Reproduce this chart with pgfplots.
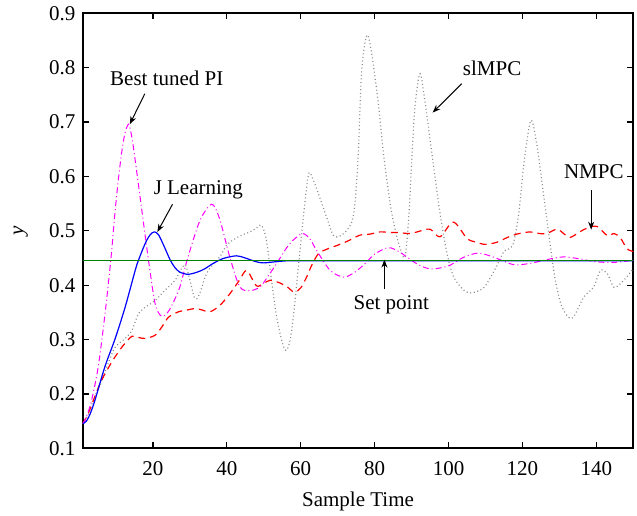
\documentclass[border=0pt]{standalone}
\usepackage{fontspec}
\setmainfont{Liberation Serif}
\usepackage{pgfplots}
\pgfplotsset{compat=1.18}
\usetikzlibrary{arrows.meta}

\definecolor{spgreen}{RGB}{0,128,0}
\definecolor{dotgray}{RGB}{140,140,140}
\definecolor{pimag}{RGB}{255,0,255}
\definecolor{nred}{RGB}{255,0,0}
\definecolor{jblue}{RGB}{0,0,255}

\begin{document}
\fontsize{10.5}{12.6}\selectfont
\begin{tikzpicture}
\useasboundingbox (-41.35pt,-33.35pt) rectangle (277.15pt,224.15pt);
\begin{axis}[
    scale only axis,
    width=275.3pt, height=217.5pt,
    xmin=1, xmax=150,
    ymin=0.1, ymax=0.9,
    xtick={20,40,...,140},
    ytick={0.1,0.2,...,0.9},
    yticklabel style={/pgf/number format/fixed, /pgf/number format/fixed zerofill, /pgf/number format/precision=1},
    /pgf/number format/assume math mode=true,
    tick align=inside,
    xtick pos=both, ytick pos=both,
    major tick length=3pt,
    tick style={black, line width=0.6pt},
    axis line style={line width=0.9pt},
    xticklabel style={yshift=-3pt},
    xlabel={Sample Time},
    ylabel={\textit{y}},
    xlabel style={at={(axis description cs:0.5,-0.1228)}, anchor=center},
    ylabel style={at={(axis description cs:-0.1126,0.5)}, anchor=center},
    clip=true,
]
% slMPC
\addplot[dotgray, line width=0.6pt, dash pattern=on 0.5pt off 1.3pt, smooth, tension=0.5] coordinates {
(1,0.145)(2.5,0.162)(4,0.19)(6,0.222)(8,0.258)(9.8,0.286)(12.5,0.302)(14.3,0.317)
(16.1,0.348)(17.4,0.357)(20.6,0.372)(23.3,0.391)(26,0.409)(27.5,0.428)(28.8,0.437)
(30,0.41)(31.3,0.376)(32.5,0.382)(34.5,0.421)(36.5,0.44)(38.1,0.452)(40,0.474)
(41.7,0.483)(44,0.492)(46.3,0.498)(48,0.505)(49.4,0.51)(50.7,0.483)(52.1,0.409)
(53.5,0.341)(55,0.295)(56,0.28)(57,0.295)(58,0.341)(59.8,0.464)(61.2,0.556)
(62.2,0.606)(63.3,0.595)(64.8,0.568)(67,0.525)(68.8,0.492)(70.5,0.49)(72.5,0.501)
(74,0.52)(74.8,0.56)(75.6,0.645)(76.5,0.795)(77.9,0.86)(79.2,0.826)(81,0.734)
(82.4,0.642)(84.2,0.55)(85.6,0.501)(87,0.466)(88.2,0.452)(89.2,0.52)(90.2,0.65)
(91,0.734)(92.3,0.789)(93.7,0.734)(95.5,0.642)(97.7,0.532)(99.6,0.458)(101.4,0.415)
(104.1,0.391)(105.9,0.386)(107.5,0.388)(109.5,0.395)(111,0.41)(113.1,0.436)
(115,0.462)(117.4,0.474)(119,0.532)(120.4,0.624)(122.3,0.703)(124,0.654)
(125.8,0.562)(127.6,0.47)(128.9,0.409)(130.7,0.36)(133.4,0.339)(136.6,0.378)
(139.3,0.397)(141.1,0.427)(143,0.421)(144.8,0.396)(147.4,0.409)(150,0.43)
};
% NMPC
\addplot[nred, line width=0.6pt, dash pattern=on 3.5pt off 2.5pt, smooth, tension=0.5] coordinates {
(1,0.145)(2.5,0.164)(4,0.19)(6.1,0.225)(8.9,0.259)(11.6,0.286)(14.3,0.306)
(16,0.304)(17.9,0.302)(20.6,0.308)(22.4,0.323)(24.2,0.341)(26.9,0.351)(29,0.354)
(31.5,0.357)(33.5,0.354)(35.4,0.351)(38,0.362)(40.8,0.384)(43.5,0.41)(45.4,0.427)
(48,0.399)(49.9,0.403)(51.7,0.409)(54.4,0.404)(56.5,0.396)(58.3,0.387)(60,0.395)
(61.6,0.415)(63,0.437)(64.8,0.458)(67,0.466)(69.8,0.473)(72,0.479)(74.2,0.486)
(76,0.492)(78.8,0.494)(81.5,0.498)(84,0.497)(86,0.497)(89.6,0.495)(92,0.499)
(95,0.503)(97.7,0.489)(101.3,0.516)(105,0.486)(107.5,0.479)(110,0.475)(113.1,0.479)
(116,0.488)(118.5,0.494)(122.1,0.498)(124.5,0.495)(126.6,0.495)(129.4,0.503)
(131.5,0.493)(133,0.488)(135.5,0.498)(137.5,0.505)(140.2,0.508)(143,0.491)
(144.8,0.495)(146.5,0.487)(148.3,0.467)(150,0.462)
};
% Best tuned PI
\addplot[pimag, line width=0.5pt, dash pattern=on 3pt off 1.5pt on 0.5pt off 1.5pt, smooth, tension=0.5] coordinates {
(1,0.145)(2,0.158)(3.4,0.188)(5.2,0.25)(7,0.345)(8.6,0.446)(9.8,0.538)(11,0.615)
(12.2,0.672)(13.4,0.696)(14.3,0.672)(15.2,0.63)(17,0.538)(18.8,0.446)(20.6,0.366)
(22.3,0.343)(24,0.35)(25.5,0.368)(27.3,0.397)(29,0.44)(30.9,0.483)(33,0.523)
(35.9,0.549)(38,0.523)(40.8,0.452)(43.5,0.397)(46.3,0.39)(49,0.397)(51,0.415)
(53.5,0.44)(56,0.467)(58,0.483)(60.5,0.495)(62.5,0.485)(64.3,0.464)(68,0.427)
(71.5,0.415)(74,0.421)(77,0.437)(80,0.457)(83.7,0.469)(86.5,0.462)(88.7,0.452)
(92,0.437)(95,0.43)(98,0.432)(100.5,0.437)(104,0.451)(108,0.459)(112,0.452)
(117.5,0.438)(122,0.44)(126.6,0.447)(131,0.452)(135,0.449)(140,0.443)(145,0.442)
(150,0.446)
};
% J Learning
\addplot[jblue, line width=0.6pt, smooth, tension=0.5] coordinates {
(1,0.145)(2,0.150)(3,0.163)(4.3,0.188)(7,0.25)(9.8,0.302)(12.5,0.36)(15.2,0.427)
(16.1,0.446)(18,0.478)(19.3,0.493)(20.4,0.498)(21.5,0.493)(23,0.472)(24.7,0.446)
(26,0.432)(27.3,0.424)(29.5,0.42)(32,0.424)(34,0.43)(36.3,0.44)(39,0.449)
(42.6,0.454)(45,0.450)(48,0.443)(50,0.441)(53,0.443)(57,0.445)(65,0.445)(150,0.445)
};
% Set point
\addplot[spgreen, line width=0.6pt] coordinates {(1,0.445) (150,0.445)};

% annotations
\node[anchor=base] at (axis cs:23.76,0.7676) {Best tuned PI};
\draw[-{Stealth[length=4pt,width=3pt]}, line width=0.5pt] (axis cs:17.8,0.752) -- (axis cs:13.74,0.696);
\node[anchor=base] at (axis cs:32.3,0.5666) {J Learning};
\draw[-{Stealth[length=4pt,width=3pt]}, line width=0.5pt] (axis cs:25.3,0.5487) -- (axis cs:21.2,0.4978);
\node[anchor=base] at (axis cs:111.8,0.786) {slMPC};
\draw[-{Stealth[length=4pt,width=3pt]}, line width=0.5pt] (axis cs:103.6,0.7707) -- (axis cs:95.7,0.7174);
\node[anchor=base] at (axis cs:139.3,0.596) {NMPC};
\draw[-{Stealth[length=4pt,width=3pt]}, line width=0.5pt] (axis cs:138.6,0.5745) -- (axis cs:138.6,0.502);
\node[anchor=base] at (axis cs:84.5,0.355) {Set point};
\draw[-{Stealth[length=4pt,width=3pt]}, line width=0.5pt] (axis cs:82.65,0.3937) -- (axis cs:82.65,0.447);
\end{axis}
\end{tikzpicture}
\end{document}
